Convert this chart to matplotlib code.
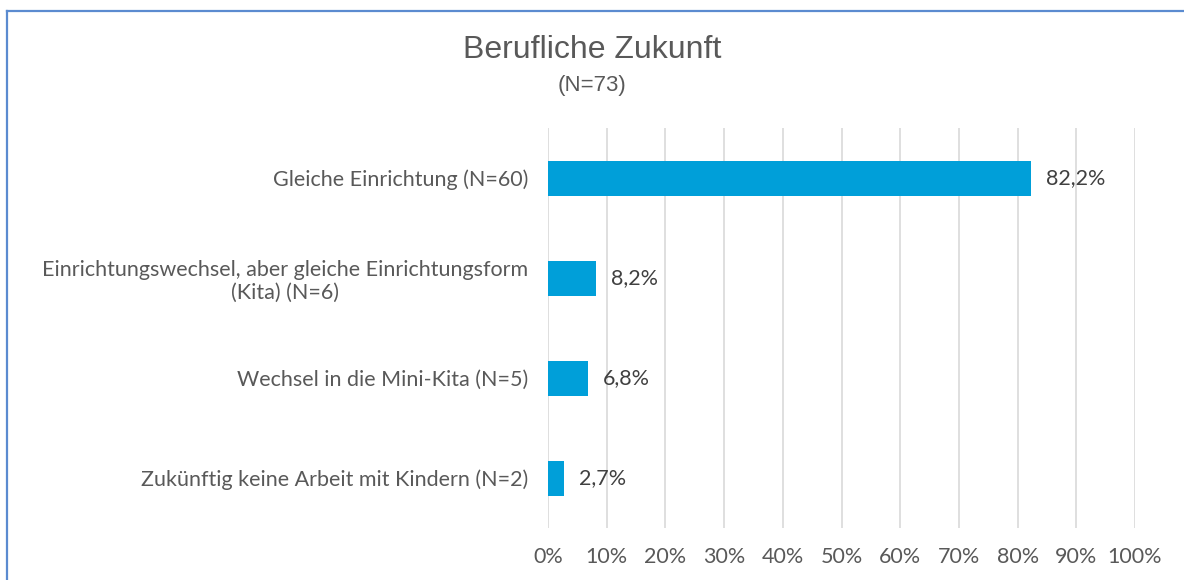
import matplotlib.pyplot as plt
from matplotlib.lines import Line2D

categories = [
    "Gleiche Einrichtung (N=60)",
    "Einrichtungswechsel, aber gleiche Einrichtungsform\n(Kita) (N=6)",
    "Wechsel in die Mini-Kita (N=5)",
    "Zukünftig keine Arbeit mit Kindern (N=2)",
]
values = [82.2, 8.2, 6.8, 2.7]
value_labels = ["82,2%", "8,2%", "6,8%", "2,7%"]
tick_values = list(range(0, 101, 10))
tick_labels = [f"{t}%" for t in tick_values]

text_color = "#595959"
bar_color = "#009FD9"
fs = 15.5

fig = plt.figure(figsize=(11.84, 5.8), dpi=100)
ax = fig.add_axes([548 / 1184, 1 - 528 / 580, 587 / 1184, 400 / 580])

y = list(range(len(categories)))
ax.barh(y, values, height=0.35, color=bar_color, zorder=3)
for yi, v, lab in zip(y, values, value_labels):
    ax.annotate(lab, (v, yi), xytext=(11, 0), textcoords="offset points",
                va="center", ha="left", fontsize=fs, color="#404040",
                family="Lato")

ax.set_xlim(0, 100)
ax.set_ylim(len(categories) - 0.5, -0.5)
ax.set_xticks(tick_values)
ax.set_xticklabels(tick_labels, fontsize=fs, color=text_color, family="Lato")
ax.set_yticks(y)
ax.set_yticklabels(categories, fontsize=fs, color=text_color, family="Lato",
                   ha="right", multialignment="center")
ax.tick_params(axis="x", length=0, pad=14)
ax.tick_params(axis="y", length=0, pad=14)
ax.grid(axis="x", color="#d9d9d9", linewidth=1.2, zorder=0)
for s in ax.spines.values():
    s.set_visible(False)

fig.text(0.5, 1 - 50 / 580, "Berufliche Zukunft", ha="center", va="center",
         fontsize=23, color=text_color, family="Liberation Sans")
fig.text(0.5, 1 - 86 / 580, "(N=73)", ha="center", va="center",
         fontsize=16, color=text_color, family="Liberation Sans")

# partial blue frame (top and left edges)
fig.add_artist(Line2D([6.5 / 1184, 6.5 / 1184], [0, 1 - 10.5 / 580],
                      transform=fig.transFigure, color="#5B8BD0", linewidth=1.6))
fig.add_artist(Line2D([6.5 / 1184, 1], [1 - 10.5 / 580, 1 - 10.5 / 580],
                      transform=fig.transFigure, color="#5B8BD0", linewidth=1.6))

fig.savefig("out.png", dpi=100)
